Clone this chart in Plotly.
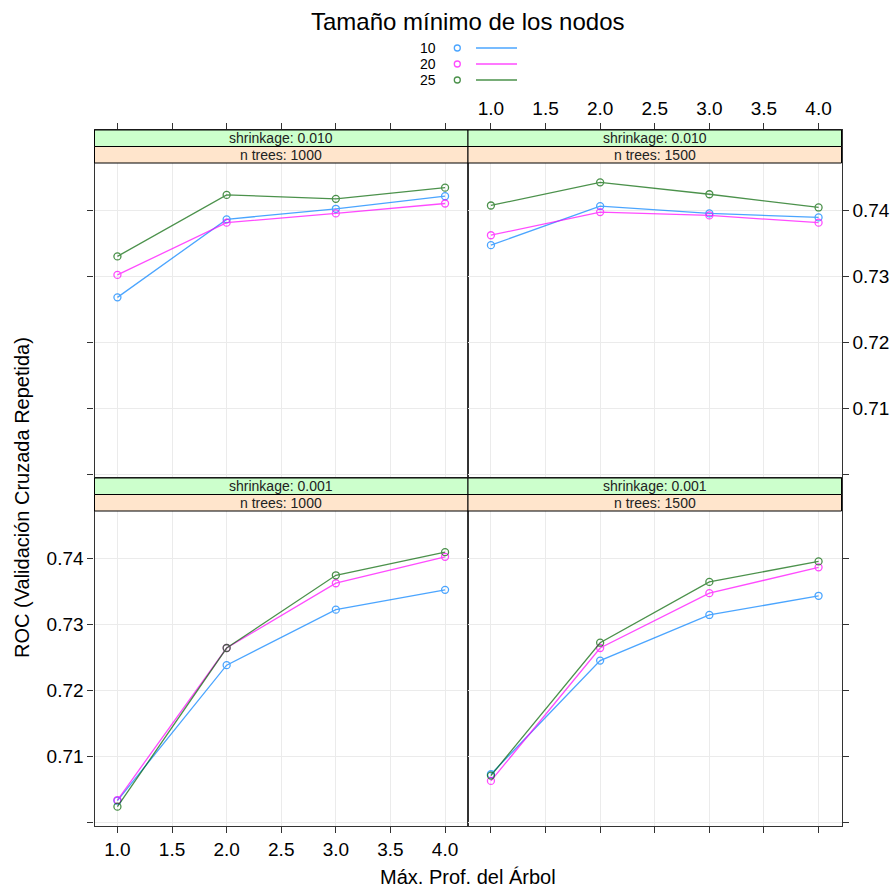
import plotly.graph_objects as go

# ---------------- data ----------------
depth = [1, 2, 3, 4]
node_sizes = ["10", "20", "25"]
series_colors = ["#0080ff", "#ff00ff", "#006400"]

# shrinkage 0.010, n trees 1000
s010_n1000_10 = [0.7268, 0.7386, 0.7402, 0.7421]
s010_n1000_20 = [0.7302, 0.7381, 0.7395, 0.7410]
s010_n1000_25 = [0.7330, 0.7423, 0.7417, 0.7434]
# shrinkage 0.010, n trees 1500
s010_n1500_10 = [0.7347, 0.7406, 0.7395, 0.7389]
s010_n1500_20 = [0.7362, 0.7397, 0.7392, 0.7381]
s010_n1500_25 = [0.7407, 0.7442, 0.7424, 0.7404]
# shrinkage 0.001, n trees 1000
s001_n1000_10 = [0.7033, 0.7238, 0.7322, 0.7352]
s001_n1000_20 = [0.7034, 0.7264, 0.7362, 0.7402]
s001_n1000_25 = [0.7024, 0.7264, 0.7374, 0.7409]
# shrinkage 0.001, n trees 1500
s001_n1500_10 = [0.7073, 0.7245, 0.7314, 0.7343]
s001_n1500_20 = [0.7063, 0.7264, 0.7347, 0.7386]
s001_n1500_25 = [0.7071, 0.7272, 0.7364, 0.7395]

strip_shrinkage = ["shrinkage: 0.010", "shrinkage: 0.010", "shrinkage: 0.001", "shrinkage: 0.001"]
strip_ntrees = ["n trees: 1000", "n trees: 1500", "n trees: 1000", "n trees: 1500"]
panel_series = [
    [s010_n1000_10, s010_n1000_20, s010_n1000_25],
    [s010_n1500_10, s010_n1500_20, s010_n1500_25],
    [s001_n1000_10, s001_n1000_20, s001_n1000_25],
    [s001_n1500_10, s001_n1500_20, s001_n1500_25],
]
x_ticks = [1.0, 1.5, 2.0, 2.5, 3.0, 3.5, 4.0]
x_ticktext = ["1.0", "1.5", "2.0", "2.5", "3.0", "3.5", "4.0"]
y_ticks = [0.70, 0.71, 0.72, 0.73, 0.74]
y_ticktext = ["", "0.71", "0.72", "0.73", "0.74"]

title_text = "Tamaño mínimo de los nodos"
xlab = "Máx. Prof. del Árbol"
ylab = "ROC (Validación Cruzada Repetida)"

# ---------------- geometry ----------------
W, H = 895, 888
FONT = "Liberation Sans"
def px(x): return x / W
def py(y): return 1 - y / H

cols = [(94.5, 468.0), (468.0, 841.5)]
rows = [(130.0, 478.0), (478.0, 826.0)]   # box top, box bottom
strip_h = 16.5

allv = [v for p in panel_series for s in p for v in s]
lo, hi = min(allv), max(allv)
pad = 0.07 * (hi - lo)
ylo, yhi = lo - pad, hi + pad
plot_h = rows[0][1] - rows[0][0] - 2 * strip_h
yhi_ext = yhi + (yhi - ylo) * (2 * strip_h) / plot_h
xpad = 0.07 * (max(depth) - min(depth))
xr = [min(depth) - xpad, max(depth) + xpad]

fig = go.Figure()
layout = dict(
    width=W, height=H, margin=dict(l=0, r=0, t=0, b=0),
    paper_bgcolor="white", plot_bgcolor="white", showlegend=False,
    font=dict(family=FONT, color="black"),
)
shapes = []
annotations = []
linecol = "#333333"
gridcol = "#ebebeb"

for i in range(4):
    r, c = divmod(i, 2)
    x0, x1 = cols[c]
    top, bot = rows[r]
    n = i + 1
    xa = "xaxis" if n == 1 else f"xaxis{n}"
    ya = "yaxis" if n == 1 else f"yaxis{n}"
    xref = "x" if n == 1 else f"x{n}"
    yref = "y" if n == 1 else f"y{n}"
    layout[xa] = dict(
        domain=[px(x0), px(x1)], range=xr, anchor=yref,
        tickvals=x_ticks, ticktext=x_ticktext,
        side="top" if r == 0 else "bottom",
        showticklabels=(i == 1 or i == 2),
        ticks="outside", ticklen=6, tickcolor=linecol, tickwidth=1,
        showline=True, mirror=True, linecolor=linecol, linewidth=1.3,
        showgrid=True, gridcolor=gridcol, gridwidth=1, zeroline=False,
        tickfont=dict(size=19, family=FONT, color="black"),
    )
    layout[ya] = dict(
        domain=[py(bot), py(top)], range=[ylo, yhi_ext], anchor=xref,
        tickvals=y_ticks, ticktext=y_ticktext,
        side="left" if c == 0 else "right",
        showticklabels=(i == 1 or i == 2),
        ticks="outside", ticklen=6, tickcolor=linecol, tickwidth=1,
        showline=True, mirror=True, linecolor=linecol, linewidth=1.3,
        showgrid=True, gridcolor=gridcol, gridwidth=1, zeroline=False,
        tickfont=dict(size=19, family=FONT, color="black"),
    )
    for s, vals in enumerate(panel_series[i]):
        fig.add_trace(go.Scatter(
            x=depth, y=vals, xaxis=xref, yaxis=yref, mode="lines+markers",
            line=dict(color=series_colors[s], width=1.3),
            marker=dict(symbol="circle-open", size=7, color=series_colors[s], line=dict(width=1.3)),
            opacity=0.7, name=node_sizes[s], hoverinfo="x+y+name",
        ))
    # strips
    shapes.append(dict(type="rect", xref="paper", yref="paper",
                       x0=px(x0), x1=px(x1), y0=py(top + strip_h), y1=py(top),
                       fillcolor="#ccffcc", line=dict(color="black", width=1), layer="above"))
    shapes.append(dict(type="rect", xref="paper", yref="paper",
                       x0=px(x0), x1=px(x1), y0=py(top + 2 * strip_h), y1=py(top + strip_h),
                       fillcolor="#ffe5cc", line=dict(color="black", width=1), layer="above"))
    annotations.append(dict(xref="paper", yref="paper", x=px((x0 + x1) / 2), y=py(top + strip_h / 2),
                            text=strip_shrinkage[i], showarrow=False, xanchor="center", yanchor="middle",
                            font=dict(size=14, family=FONT, color="#222")))
    annotations.append(dict(xref="paper", yref="paper", x=px((x0 + x1) / 2), y=py(top + 1.5 * strip_h),
                            text=strip_ntrees[i], showarrow=False, xanchor="center", yanchor="middle",
                            font=dict(size=14, family=FONT, color="#222")))

# title & axis labels
annotations.append(dict(xref="paper", yref="paper", x=px(468), y=py(22), text=title_text,
                        showarrow=False, xanchor="center", yanchor="middle",
                        font=dict(size=24, family=FONT, color="black")))
annotations.append(dict(xref="paper", yref="paper", x=px(468), y=py(877), text=xlab,
                        showarrow=False, xanchor="center", yanchor="middle",
                        font=dict(size=20, family=FONT, color="black")))
annotations.append(dict(xref="paper", yref="paper", x=px(22), y=py(498), text=ylab, textangle=-90,
                        showarrow=False, xanchor="center", yanchor="middle",
                        font=dict(size=20, family=FONT, color="black")))

# key
key_rows = [48.0, 64.0, 80.0]
for s, lab in enumerate(node_sizes):
    yy = key_rows[s]
    annotations.append(dict(xref="paper", yref="paper", x=px(438), y=py(yy), text=lab,
                            showarrow=False, xanchor="right", yanchor="middle",
                            font=dict(size=14, family=FONT, color="black")))
    shapes.append(dict(type="circle", xref="paper", yref="paper",
                       x0=px(457.3 - 3), x1=px(457.3 + 3), y0=py(yy + 3), y1=py(yy - 3),
                       opacity=0.7, line=dict(color=series_colors[s], width=1.3)))
    shapes.append(dict(type="line", xref="paper", yref="paper",
                       x0=px(476), x1=px(517), y0=py(yy), y1=py(yy),
                       opacity=0.7, line=dict(color=series_colors[s], width=1.3)))

layout["shapes"] = shapes
layout["annotations"] = annotations
fig.update_layout(**layout)
fig.write_html("out.html")
